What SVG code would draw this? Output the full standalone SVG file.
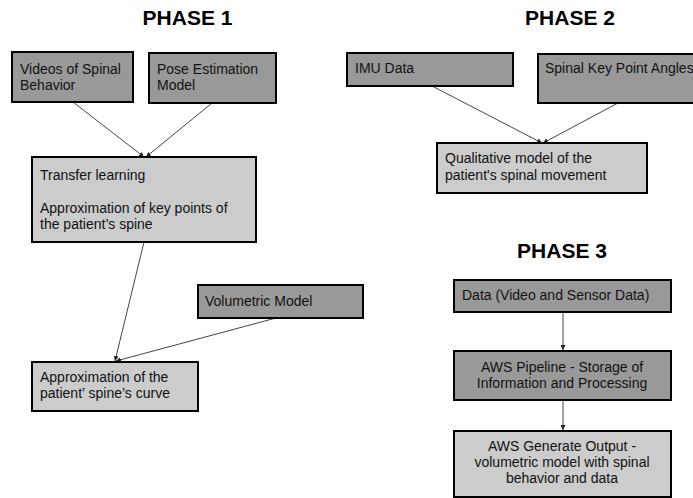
<svg xmlns="http://www.w3.org/2000/svg" width="693" height="498" viewBox="0 0 693 498">
<defs>
<marker id="ah" viewBox="0 0 10 10" refX="10" refY="5" markerWidth="5" markerHeight="5" orient="auto" markerUnits="userSpaceOnUse">
<path d="M0,0 L10,5 L0,10 z" fill="#222"/>
</marker>
<style>
.dark{fill:#999999;stroke:#000;stroke-width:2}
.light{fill:#cccccc;stroke:#000;stroke-width:2}
text{font-family:"Liberation Sans",Arial,sans-serif;font-size:14px;fill:#111}
.title{font-size:21px;font-weight:bold;text-anchor:middle;fill:#000}
.c{text-anchor:middle}
.conn line{stroke:#444;stroke-width:1;marker-end:url(#ah)}
</style>
</defs>
<rect width="693" height="498" fill="#fff"/>
<text class="title" x="187.5" y="25">PHASE 1</text>
<text class="title" x="570" y="25">PHASE 2</text>
<text class="title" x="562" y="258">PHASE 3</text>
<g class="conn" id="connectors">
<line x1="73" y1="102" x2="144" y2="157"/>
<line x1="212" y1="103" x2="146" y2="157"/>
<line x1="144" y1="242" x2="115" y2="361"/>
<line x1="276" y1="318" x2="116" y2="361"/>
<line x1="432" y1="86" x2="542" y2="143"/>
<line x1="618" y1="103" x2="543" y2="143"/>
<line x1="563" y1="312" x2="563" y2="350"/>
<line x1="563" y1="400" x2="563" y2="430"/>
</g>
<g id="videos"><rect class="dark" x="12" y="52" width="121" height="50"/><text x="20" y="74">Videos of Spinal</text><text x="20" y="90">Behavior</text></g>
<g id="pose"><rect class="dark" x="149" y="53" width="127" height="50"/><text x="157" y="74">Pose Estimation</text><text x="157" y="90">Model</text></g>
<g id="transfer"><rect class="light" x="32" y="157" width="224" height="85"/><text x="40" y="180">Transfer learning</text><text x="40" y="213">Approximation of key points of</text><text x="40" y="229">the patient’s spine</text></g>
<g id="volumetric"><rect class="dark" x="198" y="285" width="165" height="33"/><text x="205" y="306">Volumetric Model</text></g>
<g id="approx"><rect class="light" x="32" y="362" width="166" height="49"/><text x="40" y="382">Approximation of the</text><text x="40" y="398">patient’ spine’s curve</text></g>
<g id="imu"><rect class="dark" x="347" y="53" width="166" height="33"/><text x="355" y="73">IMU Data</text></g>
<g id="angles"><rect class="dark" x="538" y="54" width="170" height="49"/><text x="545" y="73">Spinal Key Point Angles</text></g>
<g id="qualitative"><rect class="light" x="437" y="143" width="210" height="50"/><text x="445" y="163">Qualitative model of the</text><text x="445" y="180">patient's spinal movement</text></g>
<g id="data"><rect class="dark" x="454" y="280" width="217" height="32"/><text x="462" y="300">Data (Video and Sensor Data)</text></g>
<g id="pipeline"><rect class="dark" x="454" y="351" width="217" height="49"/><text class="c" x="562" y="372">AWS Pipeline - Storage of</text><text class="c" x="562" y="388">Information and Processing</text></g>
<g id="output"><rect class="light" x="454" y="431" width="217" height="66"/><text class="c" x="562" y="451">AWS Generate Output -</text><text class="c" x="562" y="467">volumetric model with spinal</text><text class="c" x="562" y="483">behavior and data</text></g>
</svg>
